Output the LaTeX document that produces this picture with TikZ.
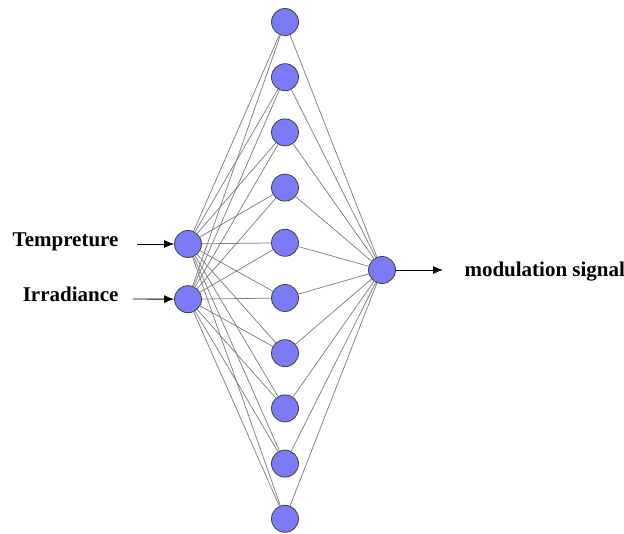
\documentclass[tikz,border=0pt]{standalone}
\usepackage{fontspec}
\setmainfont{Liberation Serif}
\usetikzlibrary{positioning,arrows.meta}

\definecolor{neuron}{RGB}{123,123,247}

\tikzset{%
  main/.style={draw=black!75, line width=0.8pt, fill=neuron, circle, minimum size=27pt, inner sep=0pt},
  link/.style={draw, color=black!50, line width=0.75pt},
  line/.style={draw, line width=0.9pt, color=black, -{LaTeX[length=10pt,width=8pt]}},
  texto/.style={font=\fontsize{21}{25}\selectfont\bfseries},
}

\begin{document}
\begin{tikzpicture}[x=1pt, y=-1pt, node distance=55.2pt]
\useasboundingbox (0,0) rectangle (624,534);
% hidden layer
\node[main] (h1) at (285,22) {};
\node[main] (h2) [below of=h1] {};
\node[main] (h3) [below of=h2] {};
\node[main] (h4) [below of=h3] {};
\node[main] (h5) [below of=h4] {};
\node[main] (h6) [below of=h5] {};
\node[main] (h7) [below of=h6] {};
\node[main] (h8) [below of=h7] {};
\node[main] (h9) [below of=h8] {};
\node[main] (h10) [below of=h9] {};
% inputs and output
\node[main] (i1) at (188,244) {};
\node[main] (i2) [below of=i1] {};
\node[main] (o) at (382,270) {};
\foreach \h in {1,...,10} {
  \draw[link] (i1) -- (h\h);
  \draw[link] (i2) -- (h\h);
  \draw[link] (h\h) -- (o);
}
% labels
\node[texto, anchor=base east] (temp) at (122,247) {Tempreture};
\node[texto, anchor=base east] (irr) at (122,302) {Irradiance};
\node[texto, anchor=base west] (mod) at (461,277) {modulation signal};
\coordinate (t1) at (137,244);
\coordinate (t2) at (133,299);
\coordinate (t3) at (443,270);
\draw[line] (t1) -- (i1);
\draw[line] (t2) -- (i2);
\draw[line] (o) -- (t3);
\end{tikzpicture}
\end{document}
